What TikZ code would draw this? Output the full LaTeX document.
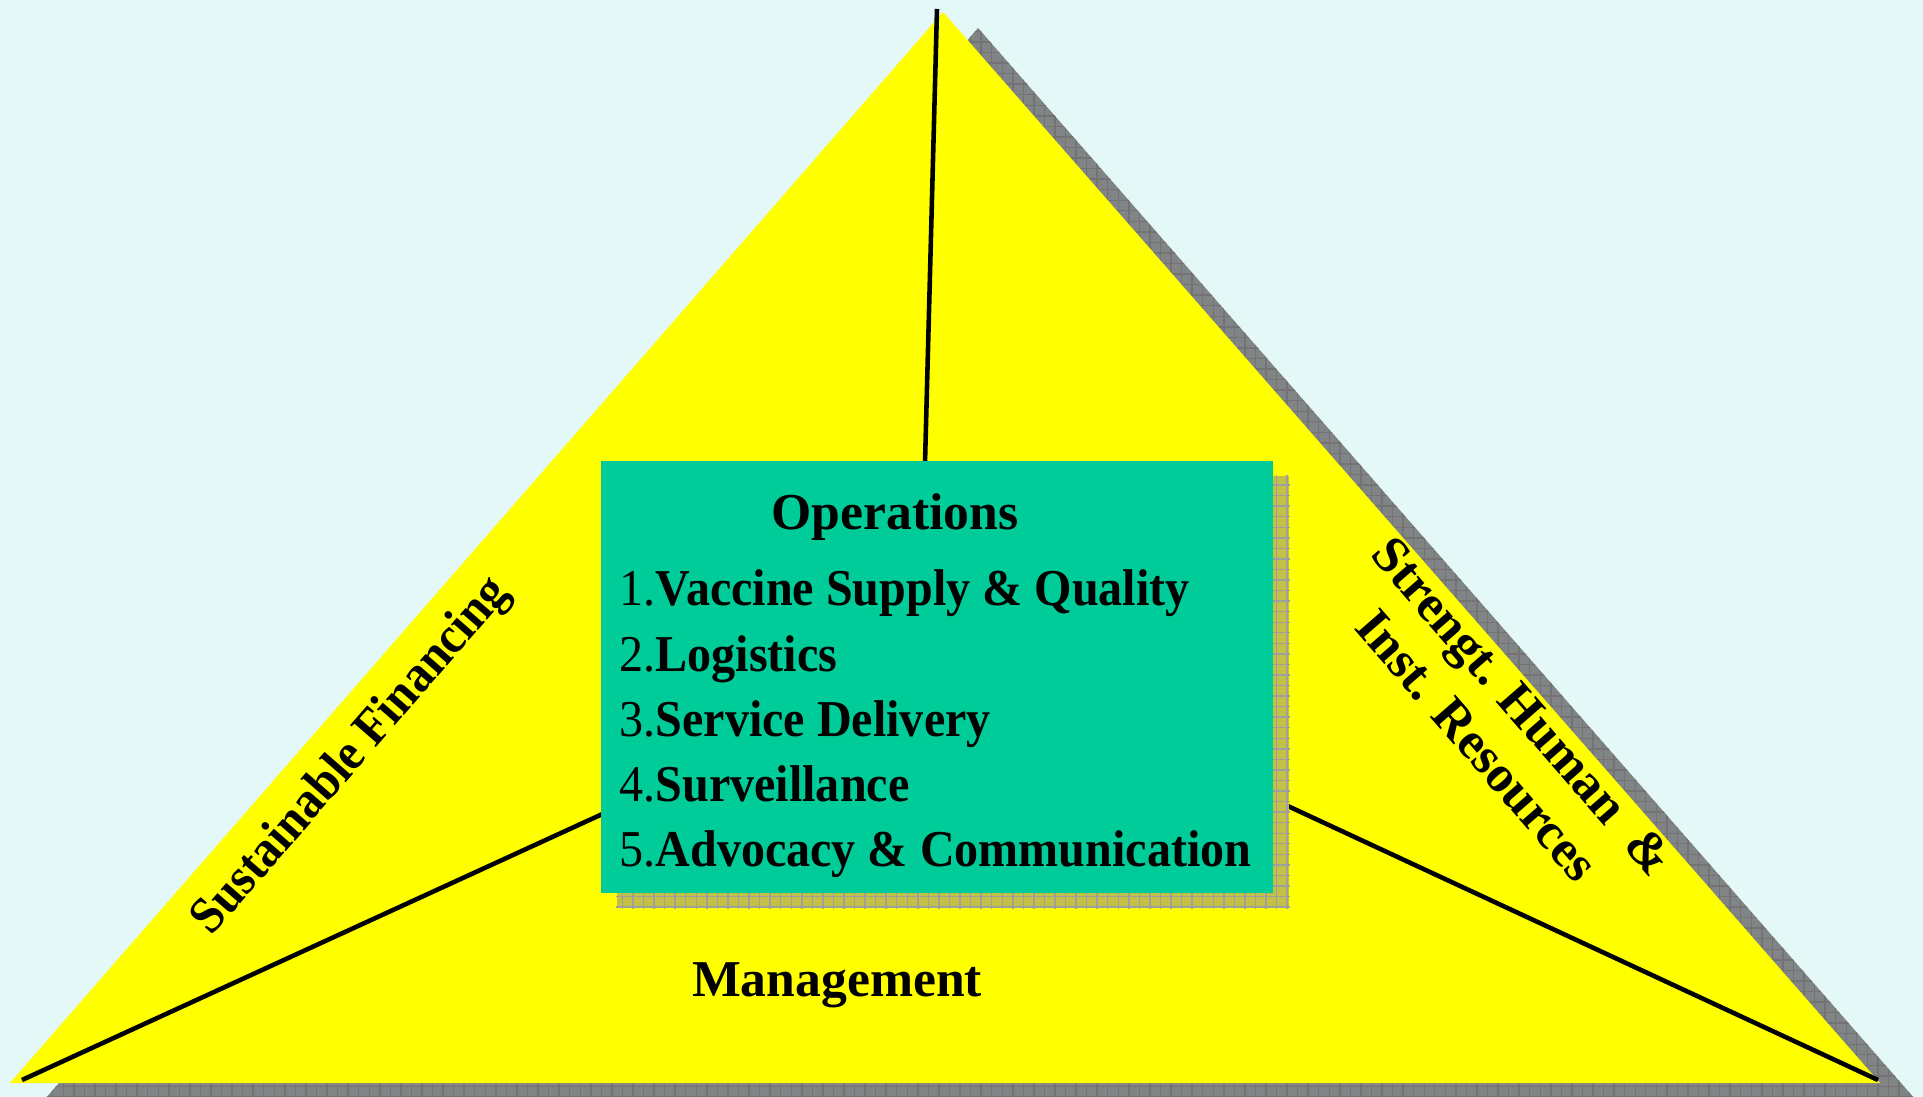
\documentclass[tikz,border=0pt]{standalone}
\usepackage{fontspec}
\setmainfont{Liberation Serif}
\usetikzlibrary{patterns}
\definecolor{skybg}{RGB}{228,248,248}
\definecolor{pyryellow}{RGB}{255,255,0}
\definecolor{opsgreen}{RGB}{0,204,153}
\definecolor{boxshade}{RGB}{196,192,70}
\definecolor{pyrshade}{RGB}{128,132,132}
\newcommand{\fs}{\fontsize{14.7}{17}\selectfont}

\begin{document}
\begin{tikzpicture}[x=0.01cm,y=-0.01cm,
    conn/.style={draw=black, line width=1.3pt},
    sidetext/.style={font=\fs\bfseries, inner sep=0pt, align=center},
    item/.style={font=\fs, anchor=base west, inner sep=0pt, xscale=0.93},
    opsbox/.style={rectangle, minimum width=6.72cm, minimum height=4.32cm, inner sep=0pt}]
    % background
    \fill[skybg] (0,0) rectangle (1923,1097);
    \useasboundingbox (0,0) rectangle (1923,1097);

    % pyramid and its shadow
    \coordinate (apex) at (943,12);
    \coordinate (left) at (10,1083);
    \coordinate (right) at (1880,1083);
    \fill[pyrshade] (978,28) -- (1915,1099) -- (45,1099) -- cycle;
    \fill[pattern=grid, pattern color=black!55] (978,28) -- (1915,1099) -- (45,1099) -- cycle;
    \fill[pyryellow] (apex) -- (right) -- (left) -- cycle;

    % edges to the hidden top
    \coordinate (top-end) at (937,9);
    \coordinate (left-end) at (22,1080);
    \coordinate (right-end) at (1878,1080);
    \coordinate (hub-top) at (920,652);
    \coordinate (hub) at (956,652);
    \draw[conn] (top-end) -- (hub-top);
    \draw[conn] (left-end) -- (hub);
    \draw[conn] (right-end) -- (hub);

    % operations box
    \node[opsbox, fill=boxshade] (ops-shadow) at (953,692) {};
    \fill[pattern=grid, pattern color=gray!75] (ops-shadow.south west) rectangle (ops-shadow.north east);
    \node[opsbox, fill=opsgreen] (ops) at (937,677) {};

    \node[sidetext, anchor=base] (ops-title) at (895,529) {Operations};
    \node[item] (item-1) at (619,606) {1.\textbf{Vaccine Supply \& Quality}};
    \node[item] (item-2) at (619,671) {2.\textbf{Logistics}};
    \node[item] (item-3) at (619,736) {3.\textbf{Service Delivery}};
    \node[item] (item-4) at (619,801) {4.\textbf{Surveillance}};
    \node[item] (item-5) at (619,866) {5.\textbf{Advocacy \& Communication}};

    % side labels
    \node[sidetext, anchor=base] (mgmt) at (837,996) {Management};
    \node[rotate=49, xscale=0.93, sidetext] (finance) at (352,757) {Sustainable Financing};
    \node[rotate=-49, sidetext] (human) at (1500,726) {Strengt. Human~~\&\\Inst. Resources};
\end{tikzpicture}
\end{document}
